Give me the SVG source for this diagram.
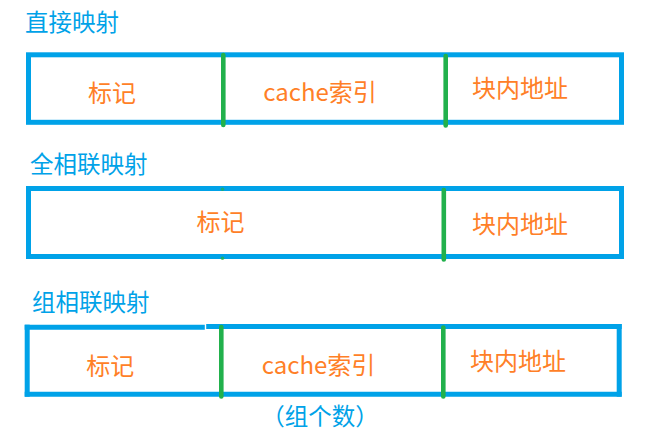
<svg xmlns="http://www.w3.org/2000/svg" width="665" height="447" viewBox="0 0 665 447">
  <style>
    .title { font-family: "Microsoft YaHei", "Noto Sans CJK SC", "Noto Sans", sans-serif; font-size: 23.5px; fill: #00a2e8; }
    .label { font-family: "Microsoft YaHei", "Noto Sans CJK SC", "Noto Sans", sans-serif; font-size: 24px; fill: #ff7f27; text-anchor: middle; }
    .note { font-family: "Microsoft YaHei", "Noto Sans CJK SC", "Noto Sans", sans-serif; font-size: 23.5px; fill: #00a2e8; text-anchor: middle; }
    .frame { fill: none; stroke: #00a2e8; stroke-width: 5; }
    .edge { stroke: #00a2e8; stroke-width: 5; fill: none; }
    .div { stroke: #22b14c; stroke-width: 4.6; stroke-linecap: round; fill: none; }
  </style>

  <g id="direct-mapping">
    <text class="title" x="25" y="31">直接映射</text>
    <rect class="frame" x="28.5" y="54.8" width="593" height="67.5"/>
    <line class="div" x1="223.3" y1="55" x2="223.3" y2="125"/>
    <line class="div" x1="445.7" y1="56" x2="445.7" y2="125.5"/>
    <text class="label" x="112" y="102">标记</text>
    <text class="label" x="320" y="100.5">cache索引</text>
    <text class="label" x="520" y="97">块内地址</text>
  </g>

  <g id="fully-associative-mapping">
    <text class="title" x="30" y="173">全相联映射</text>
    <rect class="frame" x="28.5" y="188.5" width="593" height="68"/>
    <circle cx="222.5" cy="189.3" r="1.8" fill="#22b14c" opacity="0.7"/>
    <circle cx="222.5" cy="258.2" r="1.8" fill="#22b14c" opacity="0.8"/>
    <line class="div" x1="443.8" y1="190" x2="443.8" y2="259.5"/>
    <text class="label" x="220.5" y="231">标记</text>
    <text class="label" x="520" y="233">块内地址</text>
  </g>

  <g id="set-associative-mapping">
    <text class="title" x="32" y="311">组相联映射</text>
    <line class="edge" x1="24.7" y1="327.2" x2="204.8" y2="327.2"/>
    <line class="edge" x1="206.2" y1="326.5" x2="621.7" y2="326.5"/>
    <line class="edge" x1="27.2" y1="324.7" x2="27.2" y2="396.7"/>
    <line class="edge" x1="619.2" y1="324" x2="619.2" y2="396.7"/>
    <line class="edge" x1="24.7" y1="394.2" x2="621.7" y2="394.2"/>
    <line class="div" x1="221.3" y1="327" x2="221.3" y2="396.5"/>
    <line class="div" x1="443.3" y1="327.5" x2="443.3" y2="396.5"/>
    <text class="label" x="110.3" y="375">标记</text>
    <text class="label" x="318.5" y="373.5">cache索引</text>
    <text class="label" x="518" y="370">块内地址</text>
    <text class="note" x="320" y="425">（组个数）</text>
  </g>
</svg>
